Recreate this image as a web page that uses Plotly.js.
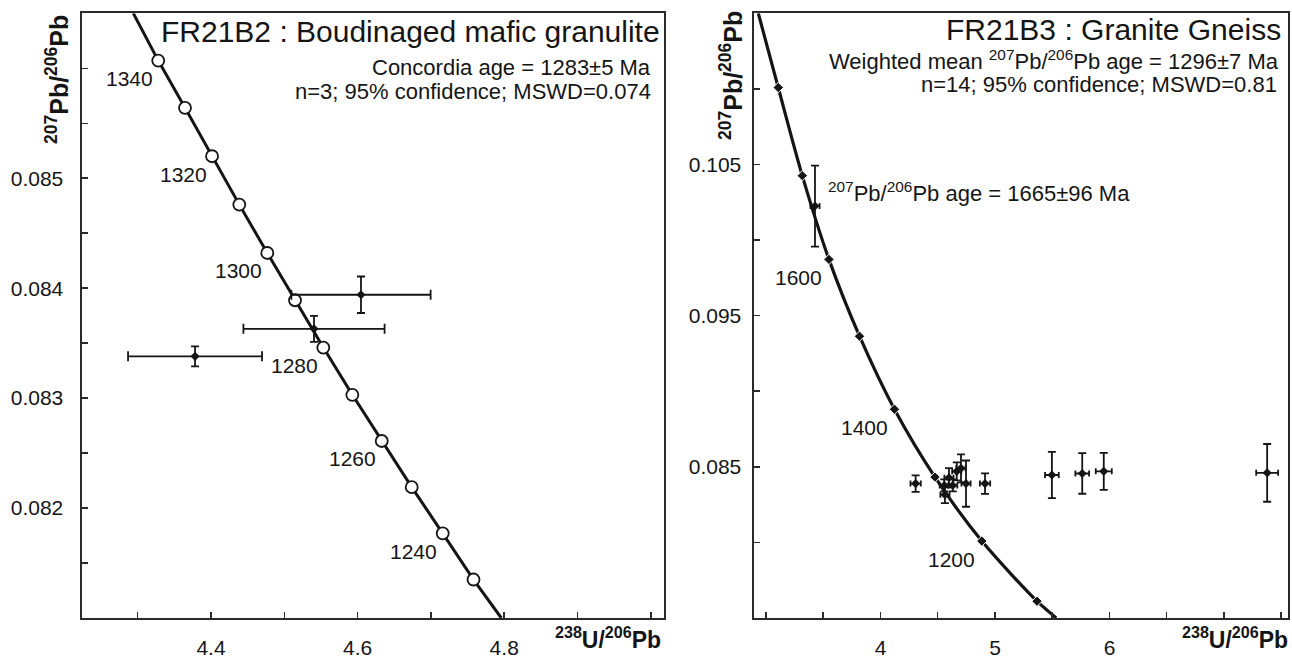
<!DOCTYPE html>
<html>
<head>
<meta charset="utf-8">
<script src="https://cdn.plot.ly/plotly-3.0.1.min.js"></script>
<style>html,body{margin:0;padding:0;background:#fff;}#chart{width:1292px;height:659px;}</style>
</head>
<body>
<div id="chart"></div>
<script>
// ---------------- DATA ----------------
// Left panel: FR21B2 concordia ticks (Ma) and positions
const leftAges  = [1340, 1330, 1320, 1310, 1300, 1290, 1280, 1270, 1260, 1250, 1240, 1230];
const leftAgeX  = [4.328, 4.3645, 4.4014, 4.4386, 4.4768, 4.5146, 4.5532, 4.5928, 4.6329, 4.6738, 4.7161, 4.7581];
const leftAgeY  = [0.08607, 0.08564, 0.08520, 0.08476, 0.08432, 0.08389, 0.08346, 0.08303, 0.08261, 0.08219, 0.08177, 0.08135];
const leftAgeLabelled = [1340, 1320, 1300, 1280, 1260, 1240];
const leftCurveEndX = [4.294, 4.796];
const leftCurveEndY = [0.0865, 0.081];
// Left panel analyses
const leftX    = [4.6046, 4.5405, 4.3782];
const leftY    = [0.08394, 0.08363, 0.08338];
const leftXErr = [0.095, 0.0963, 0.0914];
const leftYErr = [0.000166, 0.000118, 0.0000907];
// Left axis ticks (labelled, and unlabelled minor ticks)
const leftXTicks = [4.4, 4.6, 4.8];
const leftXText  = ['4.4', '4.6', '4.8'];
const leftXMinor = [4.3, 4.5, 4.7, 4.9, 5.0];
const leftYTicks = [0.082, 0.083, 0.084, 0.085];
const leftYText  = ['0.082', '0.083', '0.084', '0.085'];
const leftYMinor = [0.0815, 0.0825, 0.0835, 0.0845, 0.0855, 0.086];

// Right panel: FR21B3 concordia ticks (Ma) and positions
const rightAges = [1800, 1700, 1600, 1500, 1400, 1300, 1200, 1100];
const rightAgeX = [3.107, 3.317, 3.550, 3.817, 4.122, 4.476, 4.885, 5.367];
const rightAgeY = [0.11009, 0.10426, 0.09872, 0.09364, 0.08881, 0.08432, 0.08009, 0.07611];
const rightAgeLabelled = [1600, 1400, 1200];
const rightCurveEndX = [2.933, 5.535];
const rightCurveEndY = [0.115, 0.075];
// Right panel analyses
const rightX    = [4.307, 4.557, 4.598, 4.631, 4.666, 4.703, 4.563, 4.747, 4.913, 5.497, 5.762, 5.950, 7.377, 3.428];
const rightY    = [0.08389, 0.08377, 0.08428, 0.08377, 0.0847, 0.0849, 0.08316, 0.08389, 0.08389, 0.08446, 0.08456, 0.08470, 0.08460, 0.10225];
const rightXErr = [0.045, 0.04, 0.04, 0.04, 0.04, 0.04, 0.04, 0.04, 0.045, 0.06, 0.06, 0.07, 0.096, 0.04];
const rightYErr = [0.00055, 0.0004, 0.00064, 0.0004, 0.0006, 0.00093, 0.00056, 0.00153, 0.00068, 0.00153, 0.00134, 0.00122, 0.00191, 0.00268];
// Right axis ticks
const rightXTicks = [4, 5, 6];
const rightXText  = ['4', '5', '6'];
const rightXMinor = [3, 3.5, 4.5, 5.5, 6.5, 7, 7.5];
const rightYTicks = [0.085, 0.095, 0.105];
const rightYText  = ['0.085', '0.095', '0.105'];
const rightYMinor = [0.08, 0.09, 0.1, 0.11];

// ---------------- STYLE / LAYOUT ----------------
const W = 1292, H = 659;
const FONT = 'Liberation Sans, Arial, Helvetica, sans-serif';
const INK = '#151515';
const px = v => v / W;
const py = v => 1 - v / H;

const traces = [
  { // left concordia line
    x: [leftCurveEndX[0]].concat(leftAgeX, [leftCurveEndX[1]]),
    y: [leftCurveEndY[0]].concat(leftAgeY, [leftCurveEndY[1]]),
    xaxis: 'x', yaxis: 'y', mode: 'lines', line: {color: INK, width: 3},
    hoverinfo: 'skip', showlegend: false
  },
  { // left concordia age markers
    x: leftAgeX, y: leftAgeY, xaxis: 'x', yaxis: 'y', mode: 'markers',
    marker: {symbol: 'circle', size: 12, color: '#fff', line: {color: INK, width: 1.8}},
    text: leftAges, showlegend: false
  },
  { // left analyses
    x: leftX, y: leftY, xaxis: 'x', yaxis: 'y', mode: 'markers',
    marker: {symbol: 'diamond', size: 7, color: INK},
    error_x: {type: 'data', array: leftXErr, color: INK, thickness: 1.8, width: 5},
    error_y: {type: 'data', array: leftYErr, color: INK, thickness: 1.8, width: 4},
    showlegend: false
  },
  { // right concordia line
    x: [rightCurveEndX[0]].concat(rightAgeX, [rightCurveEndX[1]]),
    y: [rightCurveEndY[0]].concat(rightAgeY, [rightCurveEndY[1]]),
    xaxis: 'x2', yaxis: 'y2', mode: 'lines', line: {color: INK, width: 3.2, shape: 'spline', smoothing: 0.8},
    hoverinfo: 'skip', showlegend: false
  },
  { // right concordia age markers
    x: rightAgeX, y: rightAgeY, xaxis: 'x2', yaxis: 'y2', mode: 'markers',
    marker: {symbol: 'diamond', size: 8, color: INK, line: {color: '#fff', width: 1}},
    text: rightAges, showlegend: false
  },
  { // right analyses
    x: rightX, y: rightY, xaxis: 'x2', yaxis: 'y2', mode: 'markers',
    marker: {symbol: 'diamond', size: 7, color: INK},
    error_x: {type: 'data', array: rightXErr, color: INK, thickness: 1.8, width: 3},
    error_y: {type: 'data', array: rightYErr, color: INK, thickness: 1.8, width: 4},
    showlegend: false
  }
];

function axisBase(minorVals) {
  return {
    showgrid: false, zeroline: false, showline: true, mirror: true,
    linecolor: '#2a2a2a', linewidth: 2, ticks: 'inside', ticklen: 6, tickwidth: 1.5,
    tickcolor: '#2a2a2a', tickfont: {family: FONT, size: 21, color: INK}, tickmode: 'array',
    minor: {tickmode: 'array', tickvals: minorVals, ticks: 'inside', ticklen: 6, tickwidth: 1.5,
            tickcolor: '#2a2a2a', showgrid: false}
  };
}

const ann = [];
function addText(text, x, y, xanchor, size, extra) {
  ann.push(Object.assign({
    text: text, xref: 'paper', yref: 'paper', x: px(x), y: py(y),
    xanchor: xanchor, yanchor: 'middle', showarrow: false,
    font: {family: FONT, size: size, color: INK}
  }, extra || {}));
}
// panel titles and stats
addText('FR21B2 : Boudinaged mafic granulite', 662, 32, 'right', 30);
addText('Concordia age = 1283±5 Ma', 653, 67, 'right', 22);
addText('n=3; 95% confidence; MSWD=0.074', 653, 91, 'right', 22);
addText('FR21B3 : Granite Gneiss', 1283, 30, 'right', 30);
addText('Weighted mean <sup>207</sup>Pb/<sup>206</sup>Pb age = 1296±7 Ma', 1281, 60, 'right', 22);
addText('n=14; 95% confidence; MSWD=0.81', 1279, 85, 'right', 22);
addText('<sup>207</sup>Pb/<sup>206</sup>Pb age = 1665±96 Ma', 826, 192, 'left', 22);
// axis titles
addText('<b><sup>207</sup>Pb/<sup>206</sup>Pb</b>', 57, 80, 'center', 25, {textangle: -90});
addText('<b><sup>207</sup>Pb/<sup>206</sup>Pb</b>', 731, 76, 'center', 25, {textangle: -90});
addText('<b><sup>238</sup>U/<sup>206</sup>Pb</b>', 553, 638, 'left', 23);
addText('<b><sup>238</sup>U/<sup>206</sup>Pb</b>', 1180, 638, 'left', 23);
// concordia age labels
leftAges.forEach((a, i) => {
  if (leftAgeLabelled.indexOf(a) >= 0) ann.push({
    text: String(a), x: leftAgeX[i], y: leftAgeY[i], xref: 'x', yref: 'y',
    xshift: -29, yshift: -18, showarrow: false, font: {family: FONT, size: 21, color: INK}
  });
});
rightAges.forEach((a, i) => {
  if (rightAgeLabelled.indexOf(a) >= 0) ann.push({
    text: String(a), x: rightAgeX[i], y: rightAgeY[i], xref: 'x2', yref: 'y2',
    xshift: -30, yshift: -18, showarrow: false, font: {family: FONT, size: 21, color: INK}
  });
});

const layout = {
  width: W, height: H, margin: {l: 0, r: 0, t: 0, b: 0},
  paper_bgcolor: '#fff', plot_bgcolor: '#fff', showlegend: false,
  font: {family: FONT, color: INK},
  xaxis: Object.assign(axisBase(leftXMinor), {domain: [px(81.5), px(664)], range: [4.2233, 5.018], anchor: 'y',
    tickvals: leftXTicks, ticktext: leftXText, ticklabelstandoff: 10}),
  yaxis: Object.assign(axisBase(leftYMinor), {domain: [py(618), py(13.3)], range: [0.081, 0.0865], anchor: 'x',
    tickvals: leftYTicks, ticktext: leftYText, ticklabelstandoff: 12}),
  xaxis2: Object.assign(axisBase(rightXMinor), {domain: [px(753.5), px(1288)], range: [2.891, 7.559], anchor: 'y2',
    tickvals: rightXTicks, ticktext: rightXText, ticklabelstandoff: 10}),
  yaxis2: Object.assign(axisBase(rightYMinor), {domain: [py(618), py(13.3)], range: [0.075, 0.115], anchor: 'x2',
    tickvals: rightYTicks, ticktext: rightYText, ticklabelstandoff: 6}),
  annotations: ann
};

Plotly.newPlot('chart', traces, layout, {staticPlot: true, displayModeBar: false});
</script>
</body>
</html>
